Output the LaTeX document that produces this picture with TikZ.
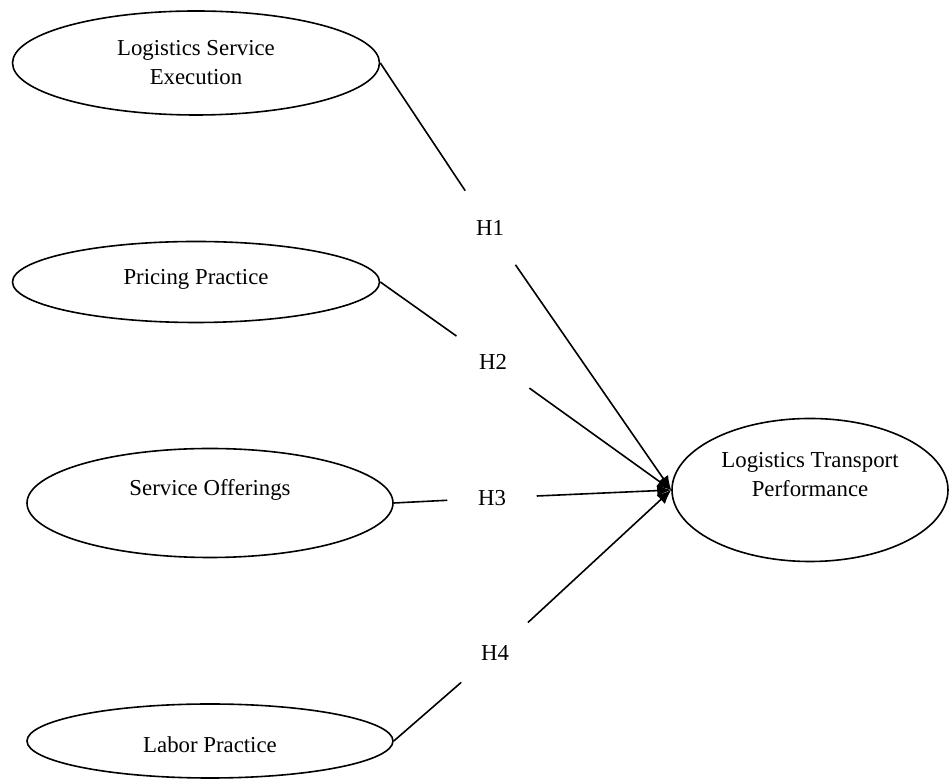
\documentclass[tikz,border=0pt]{standalone}
\usepackage{fontspec}
\setmainfont{Liberation Serif}
\usepackage{tikz}
\usetikzlibrary{shapes,arrows.meta}
\tikzstyle{line} = [draw, -{Latex[length=7pt,width=6pt]}]
\tikzstyle{construct} = [draw, ellipse, inner sep=0pt, align=center]
\tikzstyle{hyp} = [circle, minimum size=44pt, inner sep=0pt]

\begin{document}
\begin{tikzpicture} [x=0.5pt, y=-0.5pt, line width=0.8pt, font=\fontsize{11.4}{14.5}\selectfont]

        \useasboundingbox (0,0) rectangle (949,779);

        \node[construct, minimum width=183.5pt, minimum height=52pt] (LSE) at (196,63) {Logistics Service\\Execution};
        \node[construct, minimum width=183.5pt, minimum height=40.5pt, text depth=5.5pt] (PP) at (196,282) {Pricing Practice};
        \node[construct, minimum width=183pt, minimum height=54.5pt, text depth=16pt] (SO) at (210,503) {Service Offerings};
        \node[construct, minimum width=183pt, minimum height=37pt, text height=12pt] (LP) at (210,741) {Labor Practice};
        \node[construct, minimum width=138pt, minimum height=71.5pt, text depth=16pt] (LTP) at (810,490) {Logistics Transport\\Performance};

        \node[hyp] (H1) at (490,228) {H1};
        \node[hyp] (H2) at (493,362) {H2};
        \node[hyp] (H3) at (492,498) {H3};
        \node[hyp] (H4) at (495,653) {H4};


        \draw (LSE.east) -- (H1);
        \draw (PP.east) -- (H2);
        \draw (SO.east) -- (H3);
        \draw (LP.east) -- (H4);
        \path [line] (H1) -- (LTP.west);
        \path [line] (H2) -- (LTP.west);
        \path [line] (H3) -- (LTP.west);
        \path [line] (H4) -- (LTP.west);


        \end{tikzpicture}
\end{document}
